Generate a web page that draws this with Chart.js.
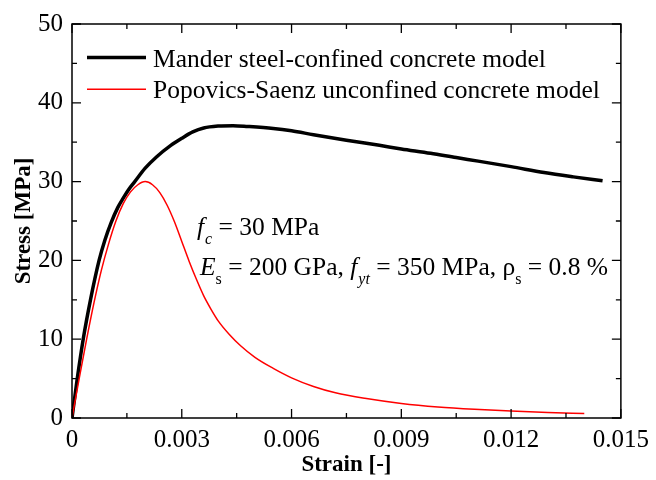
<!DOCTYPE html>
<html>
<head>
<meta charset="utf-8">
<script src="https://cdn.jsdelivr.net/npm/chart.js@4.4.1/dist/chart.umd.min.js"></script>
<style>
  html, body { margin: 0; padding: 0; background: #ffffff; }
  #wrap { width: 656px; height: 480px; }
</style>
</head>
<body>
<div id="wrap"><canvas id="c" width="656" height="480"></canvas></div>
<script>
// Stress-strain curves for confined and unconfined concrete
const manderStrain = [0, 0.000144, 0.000306, 0.000505, 0.00074, 0.0009, 0.00107, 0.00125, 0.0014, 0.00155, 0.0017, 0.0020, 0.0023, 0.0027, 0.0030, 0.0033, 0.0036, 0.0040, 0.0044, 0.0048, 0.0055, 0.0060, 0.0066, 0.0075, 0.0084, 0.0090, 0.0098, 0.0105, 0.0111, 0.0120, 0.0129, 0.0137, 0.0145];
const manderStress = [0, 5, 10, 15, 20, 22.6, 24.8, 26.7, 27.9, 29.0, 29.9, 31.7, 33.1, 34.6, 35.5, 36.3, 36.8, 37.05, 37.1, 37.0, 36.75, 36.45, 35.95, 35.25, 34.6, 34.15, 33.6, 33.05, 32.6, 31.9, 31.15, 30.6, 30.1];

const popovicsStrain = [0, 0.0002, 0.0004, 0.0006, 0.0008, 0.0010, 0.0012, 0.0014, 0.0016, 0.0018, 0.0020, 0.0022, 0.0024, 0.0026, 0.0028, 0.0030, 0.0032, 0.0034, 0.0036, 0.0038, 0.0040, 0.0043, 0.0046, 0.0050, 0.0055, 0.0060, 0.0066, 0.0072, 0.0080, 0.0090, 0.0100, 0.0110, 0.0120, 0.0130, 0.0140];
const popovicsStress = [0, 5.1, 10.0, 14.6, 18.7, 22.1, 25.0, 27.2, 28.7, 29.6, 30.0, 29.6, 28.6, 27.0, 24.9, 22.4, 19.9, 17.6, 15.5, 13.8, 12.3, 10.6, 9.2, 7.7, 6.3, 5.1, 4.0, 3.2, 2.5, 1.85, 1.4, 1.1, 0.88, 0.7, 0.57];

const seriesLabels = ['Mander steel-confined concrete model', 'Popovics-Saenz unconfined concrete model'];
const xTicks = [0, 0.003, 0.006, 0.009, 0.012, 0.015];
const yTicks = [0, 10, 20, 30, 40, 50];
const xTitle = 'Strain [-]';
const yTitle = 'Stress [MPa]';

const SERIF = '"Liberation Serif", "Times New Roman", serif';

function toPoints(xs, ys) { return xs.map((x, i) => ({ x: x, y: ys[i] })); }

// Frame, inward ticks on all four sides, legend, axis titles and parameter note
const decorations = {
  id: 'decorations',
  afterDraw(chart) {
    const ctx = chart.ctx;
    const a = chart.chartArea;
    const xs = chart.scales.x, ys = chart.scales.y;
    ctx.save();
    ctx.strokeStyle = '#000';
    ctx.lineWidth = 1.5;
    ctx.strokeRect(a.left, a.top, a.right - a.left, a.bottom - a.top);

    ctx.lineWidth = 1.3;
    ctx.beginPath();
    const major = 9, minor = 5;
    xs.ticks.forEach((t, i) => {
      const px = xs.getPixelForValue(t.value);
      ctx.moveTo(px, a.bottom); ctx.lineTo(px, a.bottom - major);
      ctx.moveTo(px, a.top); ctx.lineTo(px, a.top + major);
      if (i < xs.ticks.length - 1) {
        const mx = xs.getPixelForValue((t.value + xs.ticks[i + 1].value) / 2);
        ctx.moveTo(mx, a.bottom); ctx.lineTo(mx, a.bottom - minor);
        ctx.moveTo(mx, a.top); ctx.lineTo(mx, a.top + minor);
      }
    });
    ys.ticks.forEach((t, i) => {
      const py = ys.getPixelForValue(t.value);
      ctx.moveTo(a.left, py); ctx.lineTo(a.left + major, py);
      ctx.moveTo(a.right, py); ctx.lineTo(a.right - major, py);
      if (i < ys.ticks.length - 1) {
        const my = ys.getPixelForValue((t.value + ys.ticks[i + 1].value) / 2);
        ctx.moveTo(a.left, my); ctx.lineTo(a.left + minor, my);
        ctx.moveTo(a.right, my); ctx.lineTo(a.right - minor, my);
      }
    });
    ctx.stroke();

    // legend
    ctx.font = '25.5px ' + SERIF;
    ctx.fillStyle = '#000';
    ctx.textBaseline = 'alphabetic';
    ctx.textAlign = 'left';
    chart.data.datasets.forEach((ds, i) => {
      const ly = 57.5 + i * 31.7;
      ctx.strokeStyle = ds.borderColor;
      ctx.lineWidth = ds.borderWidth;
      ctx.beginPath();
      ctx.moveTo(87, ly); ctx.lineTo(146, ly);
      ctx.stroke();
      ctx.fillText(ds.label, 153, ly + 9);
    });

    // axis titles
    ctx.font = 'bold 23px ' + SERIF;
    ctx.textAlign = 'center';
    ctx.textBaseline = 'middle';
    ctx.fillText(xTitle, (a.left + a.right) / 2, 465);
    ctx.save();
    ctx.translate(24, (a.top + a.bottom) / 2);
    ctx.rotate(-Math.PI / 2);
    ctx.fillText(yTitle, 0, 0);
    ctx.restore();

    // material parameters
    const runs = (segs, x0, base) => {
      let x = x0;
      ctx.textAlign = 'left';
      ctx.textBaseline = 'alphabetic';
      segs.forEach(s => {
        const size = s.sub ? 16 : 25.5;
        ctx.font = (s.it ? 'italic ' : '') + size + 'px ' + SERIF;
        ctx.fillText(s.t, x, base + (s.sub ? 9 : 0));
        x += ctx.measureText(s.t).width + (s.gap || 0);
      });
    };
    runs([
      { t: 'f', it: true, gap: 1 },
      { t: 'c', it: true, sub: true },
      { t: ' = 30 MPa' }
    ], 197, 235);
    runs([
      { t: 'E', it: true },
      { t: 's', sub: true },
      { t: ' = 200 GPa, ' },
      { t: 'f', it: true, gap: 1 },
      { t: 'yt', it: true, sub: true },
      { t: ' = 350 MPa, ' },
      { t: 'ρ' },
      { t: 's', sub: true },
      { t: ' = 0.8 %' }
    ], 200, 275);
    ctx.restore();
  }
};

new Chart(document.getElementById('c'), {
  type: 'scatter',
  data: {
    datasets: [
      {
        label: seriesLabels[0],
        data: toPoints(manderStrain, manderStress),
        showLine: true,
        borderColor: '#000000',
        backgroundColor: '#000000',
        borderWidth: 3.5,
        pointRadius: 0,
        cubicInterpolationMode: 'monotone',
        order: 1
      },
      {
        label: seriesLabels[1],
        data: toPoints(popovicsStrain, popovicsStress),
        showLine: true,
        borderColor: '#ff0000',
        backgroundColor: '#ff0000',
        borderWidth: 1.5,
        pointRadius: 0,
        cubicInterpolationMode: 'monotone',
        order: 0
      }
    ]
  },
  options: {
    responsive: false,
    animation: false,
    layout: { padding: { top: 22, right: 29, left: 0, bottom: 0 } },
    plugins: { legend: { display: false }, tooltip: { enabled: false } },
    scales: {
      x: {
        type: 'linear',
        min: 0, max: 0.015,
        afterBuildTicks(scale) { scale.ticks = xTicks.map(v => ({ value: v })); },
        afterFit(scale) { scale.height = 62; },
        grid: { display: false, drawTicks: false },
        border: { display: false },
        ticks: {
          padding: 7,
          color: '#000',
          font: { family: SERIF, size: 25 },
          maxRotation: 0,
          callback: v => (v === 0 ? '0' : v.toFixed(3))
        }
      },
      y: {
        type: 'linear',
        min: 0, max: 50,
        afterBuildTicks(scale) { scale.ticks = yTicks.map(v => ({ value: v })); },
        afterFit(scale) { scale.width = 72; },
        grid: { display: false, drawTicks: false },
        border: { display: false },
        ticks: {
          padding: 9,
          color: '#000',
          font: { family: SERIF, size: 25 },
          callback: v => String(v)
        }
      }
    }
  },
  plugins: [decorations]
});
</script>
</body>
</html>
